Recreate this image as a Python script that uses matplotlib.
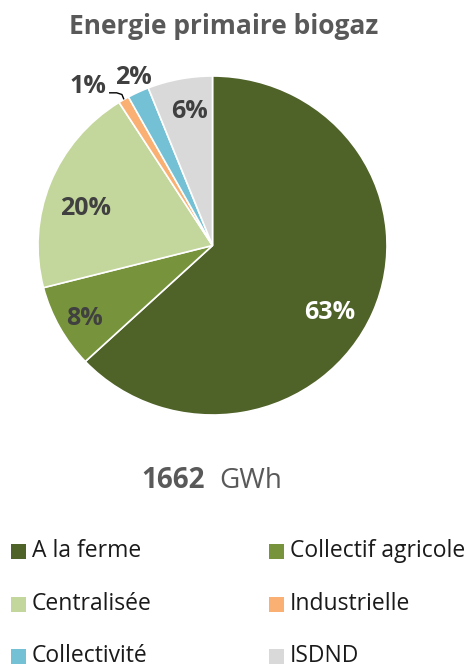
import numpy as np
import matplotlib
matplotlib.use("Agg")
import matplotlib.pyplot as plt
from matplotlib.patches import Rectangle

# donnees
categories = ["A la ferme", "Collectif agricole", "Centralisée", "Industrielle", "Collectivité", "ISDND"]
parts = [63, 8, 20, 1, 2, 6]
couleurs = ["#4F6228", "#77933C", "#C3D69B", "#FAB073", "#74C0D4", "#D9D9D9"]
total_gwh = 1662
unite = "GWh"
titre = "Energie primaire biogaz"

plt.rcParams['font.family'] = ['Open Sans', 'DejaVu Sans']

fig = plt.figure(figsize=(4.70, 6.67), dpi=100)
W, H = 470.0, 667.0

# axe du camembert (legerement ecrase comme la capture)
ax = fig.add_axes([38 / W, 1 - 415 / H, 349 / W, 339 / H])
wedges, _ = ax.pie(parts, colors=couleurs, startangle=90, counterclock=False,
                   radius=1, wedgeprops=dict(edgecolor="white", linewidth=1.2))
for w in wedges:
    w.set_clip_on(False)
ax.set_xlim(-1, 1)
ax.set_ylim(-1, 1)
ax.set_aspect("auto")
ax.axis("off")

# position des etiquettes (rayon, decalage d'angle) par part
lab_r = [0.78, 0.85, 0.76, 1.18, 1.09, 0.80]
lab_da = [-7, 1.5, 5, 6.6, -0.6, -1.5]
lab_col = ["white", "#404040", "#404040", "#404040", "#404040", "#404040"]
for w, p, r, da, c in zip(wedges, parts, lab_r, lab_da, lab_col):
    ang = np.deg2rad((w.theta1 + w.theta2) / 2 + da)
    ax.text(r * np.cos(ang), r * np.sin(ang), f"{p}%", ha="center", va="center",
            fontsize=18, fontweight="bold", color=c)

# trait de rappel pour 1%
w1 = wedges[3]
a1 = np.deg2rad((w1.theta1 + w1.theta2) / 2)
x0, y0 = np.cos(a1), np.sin(a1)
ax.plot([x0 - 0.08, x0 - 0.04, x0 - 0.01, x0], [y0 + 0.04, y0 + 0.04, y0 + 0.03, y0 + 0.005],
        color="black", lw=1.0, clip_on=False)

fig.text(224 / W, 1 - 26 / H, titre, ha="center", va="center",
         fontsize=19, fontweight="bold", color="#595959")

fig.text(205 / W, 1 - 481 / H, f"{total_gwh}", ha="right", va="center",
         fontsize=20, fontweight="bold", color="#595959")
fig.text(219 / W, 1 - 481 / H, unite, ha="left", va="center",
         fontsize=20, color="#595959")

# legende manuelle, 2 colonnes
col_x = [11, 269]
row_y = [551, 604, 656]
for i, (cat, c) in enumerate(zip(categories, couleurs)):
    x = col_x[i % 2]
    y = row_y[i // 2]
    fig.patches.append(Rectangle((x / W, 1 - (y + 7.5) / H), 15 / W, 15 / H,
                                 transform=fig.transFigure, facecolor=c, edgecolor="none"))
    fig.text((x + 21) / W, 1 - y / H, cat, ha="left", va="center",
             fontsize=16.5, color="#1a1a1a")

fig.savefig("out.png", dpi=100)
